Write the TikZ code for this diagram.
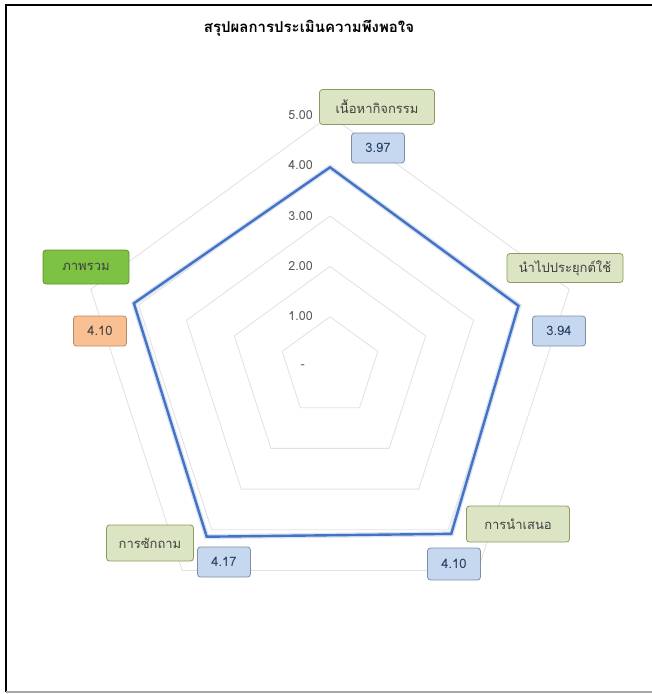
\documentclass[tikz,border=0pt]{standalone}
\usepackage{fontspec}
\setmainfont[Script=Thai]{Loma}
\usetikzlibrary{calc}
\definecolor{gridc}{HTML}{E2E2E2}
\definecolor{datac}{HTML}{4472C4}
\definecolor{catfill}{HTML}{DCE5C3}
\definecolor{catdraw}{HTML}{8C9A5E}
\definecolor{valfill}{HTML}{C6D8EF}
\definecolor{valdraw}{HTML}{7F8EA3}
\definecolor{grnfill}{HTML}{7DC242}
\definecolor{grndraw}{HTML}{5E9130}
\definecolor{orgfill}{HTML}{F9C093}
\definecolor{orgdraw}{HTML}{B98A66}
\definecolor{txt}{HTML}{404040}
\definecolor{ticktxt}{HTML}{595959}
\definecolor{valtxt}{HTML}{1F3A5F}
\begin{document}
\begin{tikzpicture}[x=1pt,y=-1pt,
  gridline/.style={draw=gridc, line width=0.9pt, line join=round},
  dataline/.style={draw=datac, line width=2.4pt, line join=miter},
  box/.style={rounded corners=3pt, line width=0.8pt, inner sep=0pt, font=\fontsize{13}{15}\selectfont},
  catbox/.style={box, draw=catdraw, fill=catfill, text=txt},
  valbox/.style={box, draw=valdraw, fill=valfill, text=valtxt, minimum width=53pt, minimum height=30pt},
  allbox/.style={box, draw=grndraw, fill=grnfill, text=txt},
  orgbox/.style={box, draw=orgdraw, fill=orgfill, text=txt, minimum width=53pt, minimum height=30pt},
  ticklbl/.style={anchor=east, text=ticktxt, inner sep=0pt, font=\fontsize{12.5}{14}\selectfont}]
\useasboundingbox (0,0) rectangle (652,694);
% frame
\draw[black, line width=1.5pt] (5,5) -- (652,5);
\draw[black, line width=1.5pt] (6,5) -- (6,692);
\draw[gray!70, line width=1.2pt] (6,692) -- (652,692);
% title
\node[font=\bfseries\fontsize{15}{17}\selectfont, text=black] (title) at (309,28) {สรุปผลการประเมินความพึงพอใจ};
\begin{scope}[shift={(330,367)}]
  \foreach \r in {1,...,5}{
    \draw[gridline] (-90:\r*50.3) -- (-18:\r*50.3) -- (54:\r*50.3) -- (126:\r*50.3) -- (198:\r*50.3) -- cycle;
  }
  \coordinate (d1) at (-90:3.97*50.3);
  \coordinate (d2) at (-18:3.94*50.3);
  \coordinate (d3) at (54:4.10*50.3);
  \coordinate (d4) at (126:4.17*50.3);
  \coordinate (d5) at (198:4.10*50.3);
  \draw[datac!20, line width=5pt, line join=miter] (d1) -- (d2) -- (d3) -- (d4) -- (d5) -- cycle;
  \draw[dataline] (d1) -- (d2) -- (d3) -- (d4) -- (d5) -- cycle;
\end{scope}
% tick labels
\node[ticklbl] (t5) at (313,115) {5.00};
\node[ticklbl] (t4) at (313,165) {4.00};
\node[ticklbl] (t3) at (313,216) {3.00};
\node[ticklbl] (t2) at (313,266) {2.00};
\node[ticklbl] (t1) at (313,316) {1.00};
\node[ticklbl] (t0) at (305,367) {-};
% category labels
\node[catbox, minimum width=115pt, minimum height=35pt] (c1) at (377,107) {เนื้อหากิจกรรม};
\node[valbox] (v1) at (378,148) {3.97};
\node[catbox, minimum width=116pt, minimum height=29pt] (c2) at (565,268) {นำไปประยุกต์ใช้};
\node[valbox] (v2) at (559,331) {3.94};
\node[catbox, minimum width=103pt, minimum height=36pt] (c3) at (518,524) {การนำเสนอ};
\node[valbox, minimum height=32pt] (v3) at (454,564) {4.10};
\node[catbox, minimum width=87pt, minimum height=36pt] (c4) at (150,543) {การซักถาม};
\node[valbox] (v4) at (224,562) {4.17};
\node[allbox, minimum width=86pt, minimum height=34pt] (c5) at (86,267) {ภาพรวม};
\node[orgbox] (v5) at (100,331) {4.10};
\end{tikzpicture}
\end{document}
